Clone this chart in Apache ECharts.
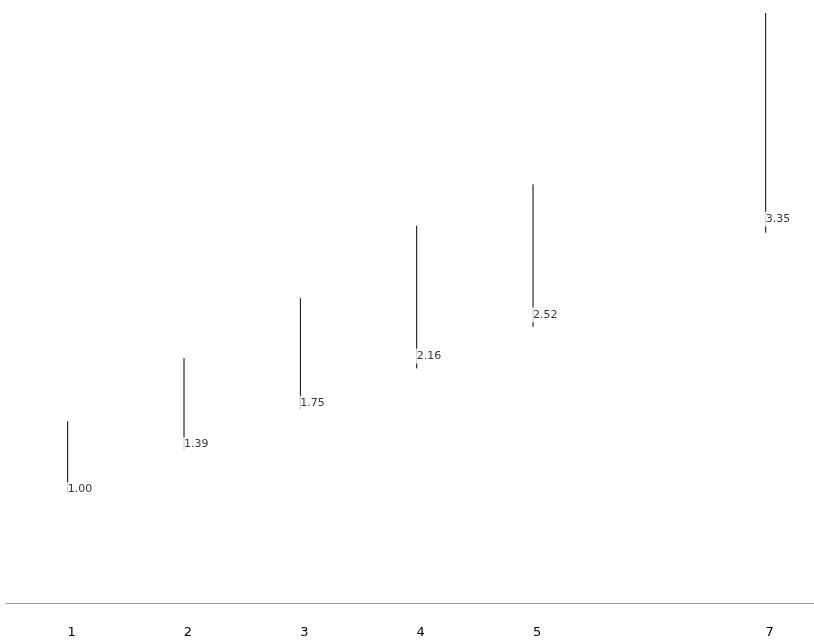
<!DOCTYPE html>
<html>
<head>
<meta charset="utf-8">
<script src="https://cdn.jsdelivr.net/npm/echarts@6/dist/echarts.min.js"></script>
<style>html,body{margin:0;padding:0;background:#fff}#c{width:814px;height:644px}</style>
</head>
<body>
<div id="c"></div>
<script>
var xValues = [1, 2, 3, 4, 5, 7];
var values = [1.00, 1.39, 1.75, 2.16, 2.52, 3.35];
var lows = [0.96, 1.33, 1.68, 2.04, 2.40, 3.22];
var highs = [1.58, 2.13, 2.65, 3.28, 3.64, 5.13];
var tickLabels = [1, 2, 3, 4, 5, 7];

var rangeData = xValues.map(function (x, i) { return [x, lows[i], highs[i]]; });
var labelData = xValues.map(function (x, i) { return [x, values[i]]; });

var chart = echarts.init(document.getElementById('c'), null, { renderer: 'canvas' });
chart.setOption({
  animation: false,
  backgroundColor: '#fff',
  grid: { left: 6, right: 0, top: 13, bottom: 41 },
  xAxis: {
    type: 'value',
    min: 0.47,
    max: 7.415,
    splitLine: { show: false },
    axisTick: { show: false },
    axisLine: { show: true, lineStyle: { color: '#999', width: 1 } },
    axisLabel: {
      customValues: tickLabels,
      margin: 23,
      padding: [0, 0, 0, 8],
      color: '#000',
      fontSize: 13,
      fontFamily: 'DejaVu Sans'
    }
  },
  yAxis: {
    type: 'value',
    min: 0,
    max: 5.13,
    show: false,
    splitLine: { show: false }
  },
  series: [
    {
      type: 'custom',
      z: 2,
      data: rangeData,
      encode: { x: 0, y: [1, 2] },
      renderItem: function (params, api) {
        var p1 = api.coord([api.value(0), api.value(1)]);
        var p2 = api.coord([api.value(0), api.value(2)]);
        return {
          type: 'line',
          shape: { x1: p1[0], y1: p1[1], x2: p2[0], y2: p2[1] },
          style: { stroke: '#000', lineWidth: 1 }
        };
      }
    },
    {
      type: 'scatter',
      z: 5,
      symbolSize: 0,
      data: labelData,
      label: {
        show: true,
        position: 'right',
        distance: -1,
        offset: [0, 1.5],
        formatter: function (p) { return p.value[1].toFixed(2); },
        color: '#000',
        fontSize: 11,
        fontFamily: 'DejaVu Sans',
        backgroundColor: '#fff',
        padding: [2, 1, 2, 1]
      }
    }
  ]
});
</script>
</body>
</html>
